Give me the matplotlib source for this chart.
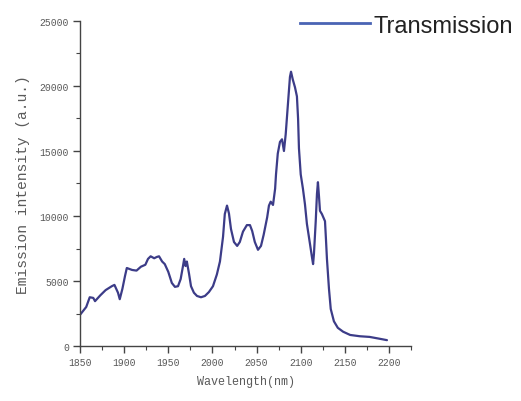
"""Emission spectrum with a 'Transmission' legend key, 521x402 px."""
import matplotlib

matplotlib.use("Agg")
import matplotlib.pyplot as plt  # noqa: E402
from matplotlib.lines import Line2D  # noqa: E402

# wavelength (nm) and emission intensity (a.u.)
wavelength = [
    1850, 1857, 1861, 1865, 1867, 1873, 1879, 1886, 1889, 1893, 1895, 1898,
    1901, 1903, 1909, 1914, 1919, 1924, 1927, 1930, 1934, 1937, 1939.5, 1943,
    1946, 1950, 1954, 1957.5, 1961, 1964, 1966.5, 1968, 1969.5, 1971, 1973.5,
    1975.7, 1979, 1982.5, 1987, 1991.5, 1996, 2000.6, 2005, 2008.5, 2012,
    2014, 2016.5, 2018.7, 2021, 2024.4, 2028, 2031, 2034.6, 2039, 2042.5,
    2045, 2048, 2051.6, 2055, 2058, 2062, 2064, 2066, 2068.6, 2071, 2072,
    2074, 2076.5, 2078.8, 2081, 2083, 2085.5, 2087.8, 2089, 2091, 2093.5,
    2095.7, 2097, 2098, 2100, 2102.5, 2104.8, 2107, 2110.5, 2112.7, 2114,
    2115, 2117, 2118.4, 2119.5, 2120.7, 2121.8, 2124, 2127.5, 2128.6, 2129.7,
    2132, 2134, 2137.6, 2142, 2148, 2156, 2167, 2178, 2190, 2197.7,
]
intensity = [
    2400, 3000, 3750, 3700, 3450, 3900, 4300, 4600, 4700, 4100, 3600, 4400,
    5400, 6000, 5850, 5800, 6100, 6250, 6700, 6900, 6750, 6850, 6900, 6500,
    6300, 5700, 4850, 4550, 4600, 5150, 6100, 6700, 6150, 6500, 5550,
    4600, 4100, 3850, 3750, 3850, 4150, 4600, 5500, 6500, 8400,
    10150, 10800, 10200, 9000, 8000, 7700, 8000, 8800, 9300, 9300,
    8850, 8000, 7400, 7700, 8550, 9900, 10800, 11100, 10850, 12100, 13200,
    14800, 15700, 15900, 15000, 16300, 18600, 20700, 21100, 20500, 19900,
    19200, 17500, 15200, 13200, 12100, 10900, 9400, 7850, 6850, 6300,
    7100, 9600, 11700, 12600, 11500, 10400, 10150, 9600, 8200, 6700,
    4400, 2850, 1900, 1400, 1100, 850, 750, 700, 550, 450,
]

x_ticks = [1850, 1900, 1950, 2000, 2050, 2100, 2150, 2200]
y_ticks = [0, 5000, 10000, 15000, 20000, 25000]

mono = ["Liberation Mono", "DejaVu Sans Mono"]
text_grey = "#5a5a5a"

fig = plt.figure(figsize=(5.21, 4.02), dpi=100)
ax = fig.add_axes([0.1536, 0.1368, 0.789 - 0.1536, 0.9453 - 0.1368])

ax.plot(wavelength, intensity, color="#3c3c88", linewidth=1.6,
        solid_joinstyle="round", solid_capstyle="round")

ax.set_xlim(1850, 2225)
ax.set_ylim(0, 25000)
ax.set_xticks(x_ticks)
ax.set_yticks(y_ticks)
ax.set_xticks([t + 25 for t in x_ticks], minor=True)
ax.set_yticks([t + 2500 for t in y_ticks[:-1]], minor=True)

for side in ("top", "right"):
    ax.spines[side].set_visible(False)
for side in ("left", "bottom"):
    ax.spines[side].set_color("#444444")
    ax.spines[side].set_linewidth(1.0)

ax.tick_params(which="major", direction="out", length=5, width=1.0,
               color="#444444", labelsize=7, labelcolor=text_grey, pad=3)
ax.tick_params(which="minor", direction="out", length=3, width=0.8,
               color="#444444")
for lbl in ax.get_xticklabels() + ax.get_yticklabels():
    lbl.set_family(mono)

ax.set_xlabel("Wavelength(nm)", family=mono, fontsize=8.5,
              color=text_grey, labelpad=6)
ax.set_ylabel("Emission intensity (a.u.)", family=mono, fontsize=10.5,
              color=text_grey, labelpad=7)

# legend key in the top right corner
fig.add_artist(Line2D([300 / 521, 370 / 521], [1 - 24 / 402, 1 - 24 / 402],
                      transform=fig.transFigure, color="#4a64b4",
                      linewidth=2.0))
fig.text(373 / 521, 1 - 33 / 402, "Transmission", fontsize=17,
         family=["Liberation Sans Narrow", "Liberation Sans", "DejaVu Sans"],
         color="#222222", ha="left", va="baseline")

fig.savefig("out.png", dpi=100)
